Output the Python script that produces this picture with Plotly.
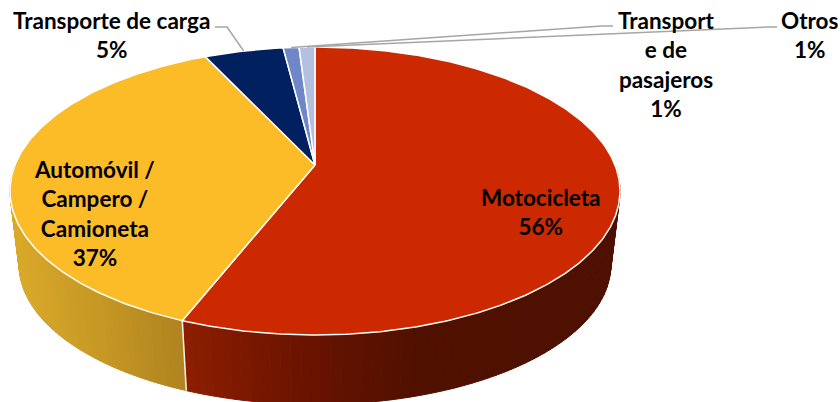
import numpy as np
import plotly.graph_objects as go

categories = ["Motocicleta", "Automóvil / Campero / Camioneta", "Transporte de carga", "Transporte de pasajeros", "Otros"]
values = [56, 37, 5, 1, 1]
label_lines = [["Motocicleta"], ["Automóvil /", "Campero /", "Camioneta"], ["Transporte de carga"], ["Transport", "e de", "pasajeros"], ["Otros"]]
top_colors = ["#CC2900", "#FBBC28", "#002060", "#6F86C8", "#B4C0E0"]
label_pos = [(541, 212), (94, 213), (111, 35), (666, 64), (810, 35)]

# perspective of the disc, in page pixels
CX, CY, A, B, K = 315, 165, 300, 139.3, 0.1805
SHRINK, VANISH_Y = 0.97, 2653


def top_xy(theta):
    u, v = np.sin(theta), np.cos(theta)
    w = 1 + K * v
    return CX + A * u / w, CY - B * v / w


def bottom_xy(theta):
    x, y = top_xy(theta)
    return CX + SHRINK * (x - CX), VANISH_Y + SHRINK * (y - VANISH_Y)


def wall_color(stops, x):
    xs, cs = zip(*stops)
    return "rgb(%d,%d,%d)" % tuple(np.interp(x, xs, [c[i] for c in cs]) for i in range(3))


red_wall = [(185, (140, 30, 0)), (300, (108, 20, 0)), (420, (80, 16, 0)), (620, (78, 16, 0))]
yellow_wall = [(10, (218, 170, 42)), (100, (198, 152, 36)), (188, (174, 130, 32))]
wall_stops = [red_wall, yellow_wall]

fractions = np.cumsum([0] + values) / sum(values)
angles = 2 * np.pi * fractions

fig = go.Figure()

# side walls (front part of the first two slices), thin strips for the gradient
for i, stops in enumerate(wall_stops):
    a0 = max(angles[i], np.pi / 2)
    a1 = min(angles[i + 1], 3 * np.pi / 2)
    edges = np.linspace(a0, a1, 70)
    for t0, t1 in zip(edges[:-1], edges[1:]):
        ts = np.array([t0, t1])
        xt, yt = top_xy(ts)
        xb, yb = bottom_xy(ts[::-1])
        col = wall_color(stops, xt.mean())
        fig.add_trace(go.Scatter(
            x=np.r_[xt, xb, xt[0]], y=np.r_[yt, yb, yt[0]], mode="lines",
            fill="toself", fillcolor=col, line=dict(color=col, width=1),
            hoverinfo="skip", showlegend=False))

# seam between the two walls
seam = angles[1]
sx0, sy0 = top_xy(seam)
sx1, sy1 = bottom_xy(seam)
fig.add_trace(go.Scatter(x=[sx0, sx1], y=[sy0, sy1], mode="lines",
                         line=dict(color="#F4EFE6", width=1.5), hoverinfo="skip", showlegend=False))

# top faces
for i, (name, col) in enumerate(zip(categories, top_colors)):
    ts = np.linspace(angles[i], angles[i + 1], max(3, int(values[i] * 6)))
    x, y = top_xy(ts)
    fig.add_trace(go.Scatter(
        x=np.r_[CX, x, CX], y=np.r_[CY, y, CY], mode="lines", fill="toself",
        fillcolor=col, line=dict(color="#FFFFFF", width=1.5), name=name,
        hoverinfo="name", showlegend=False))

# leader lines
mid = (angles[:-1] + angles[1:]) / 2
leaders = {2: [(215, 27), (227, 27)], 3: [(613, 26), (602, 26)], 4: [(777, 27), (767, 27)]}
for i, pts in leaders.items():
    ex, ey = top_xy(mid[i])
    xs = [p[0] for p in pts] + [float(ex)]
    ys = [p[1] for p in pts] + [float(ey)]
    fig.add_trace(go.Scatter(x=xs, y=ys, mode="lines", line=dict(color="#A6A6A6", width=1.5),
                             hoverinfo="skip", showlegend=False))

# labels
for lines, v, (lx, ly) in zip(label_lines, values, label_pos):
    text = "<br>".join(f"<b>{t}</b>" for t in lines + [f"{v}%"])
    fig.add_annotation(x=lx, y=ly, xref="x", yref="y", text=text, showarrow=False,
                       align="center", xanchor="center", yanchor="middle",
                       font=dict(family="Lato", size=22.5, color="#000000"))

fig.update_layout(
    width=840, height=402, margin=dict(l=0, r=0, t=0, b=0),
    paper_bgcolor="#FFFFFF", plot_bgcolor="#FFFFFF", showlegend=False,
    xaxis=dict(range=[0, 840], visible=False, fixedrange=True),
    yaxis=dict(range=[402, 0], visible=False, fixedrange=True),
)
fig.write_html("out.html", config={"displayModeBar": False},
               post_script="document.documentElement.style.overflow='hidden';document.body.style.margin='0';")
